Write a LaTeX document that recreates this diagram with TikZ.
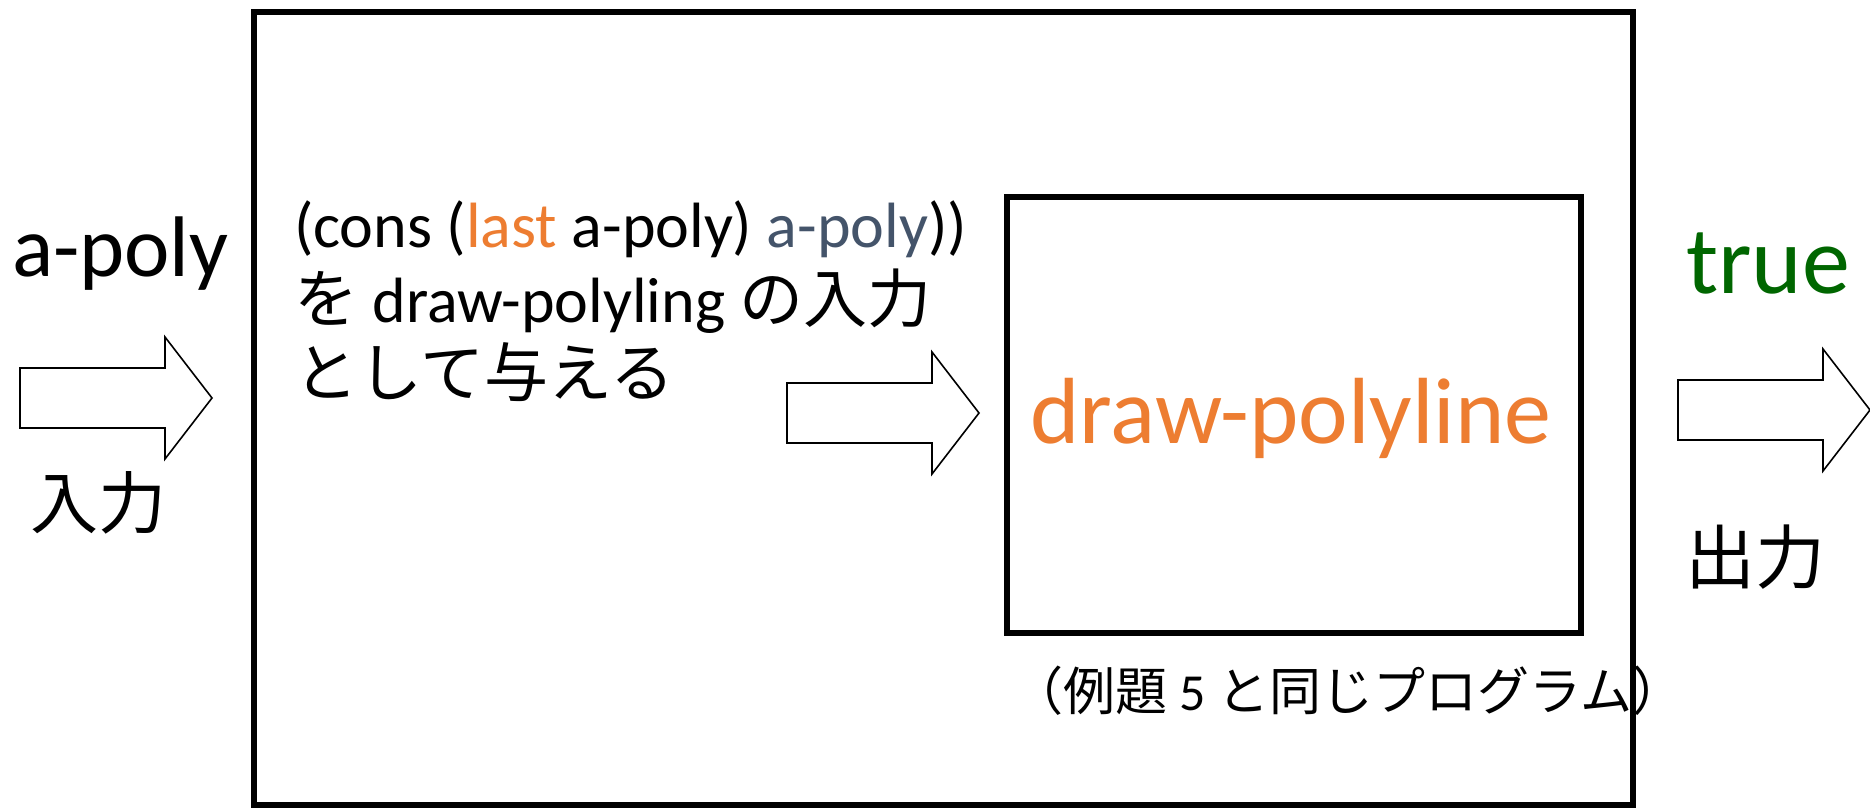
\documentclass[tikz,border=0pt]{standalone}
\usepackage{fontspec}
\setmainfont{Carlito}
\newfontfamily\jp{Noto Sans CJK JP}
\definecolor{accentorange}{HTML}{ED7D31}
\definecolor{slate}{HTML}{44546A}
\definecolor{truegreen}{RGB}{0,102,0}
\begin{document}
\begin{tikzpicture}[x=0.5pt,y=-0.5pt,
  boxline/.style={draw=black, line width=3pt, inner sep=0pt, outer sep=0pt},
  arrowline/.style={draw=black, line width=0.8pt, fill=white, line join=miter},
  lbl/.style={inner sep=0pt, outer sep=0pt},
  blockarrow/.pic={\path[arrowline] (0,-30) -- (145,-30) -- (145,-61) -- (192,0) -- (145,61) -- (145,30) -- (0,30) -- cycle;}
]
\useasboundingbox (0,0) rectangle (1870,808);
\node[boxline, minimum width=689.5pt, minimum height=396.5pt] (outer) at (943.5,408.5) {};
\node[boxline, minimum width=287pt, minimum height=218pt] (inner) at (1294,415) {};
\pic (arrL) at (20,398) {blockarrow};
\pic (arrM) at (787,413) {blockarrow};
\pic (arrR) at (1678,410) {blockarrow};
\node[lbl, anchor=base west, font=\fontsize{43}{50}\selectfont] (apoly) at (12,276) {a-poly};
\node[lbl, font=\jp\fontsize{34}{40}\selectfont] (inlbl) at (99,503) {入力};
\node[lbl, anchor=base west, font=\fontsize{32}{38}\selectfont] (code1) at (294,248) {(cons ({\color{accentorange}last} a-poly) {\color{slate}a-poly}))};
\node[lbl, anchor=base west, font=\fontsize{32}{38}\selectfont] (code2) at (294,322) {{\jp を} draw-polyling {\jp の入力}};
\node[lbl, anchor=base west, font=\jp\fontsize{32}{38}\selectfont] (code3) at (294,396) {として与える};
\node[lbl, anchor=base, font=\fontsize{47}{56}\selectfont, text=accentorange] (func) at (1291,443) {draw-polyline};
\node[lbl, font=\fontsize{26}{32}\selectfont] (note) at (1348,691) {{\jp （例題} 5 {\jp と同じプログラム）}};
\node[lbl, anchor=base, font=\fontsize{48}{56}\selectfont, text=truegreen] (truelbl) at (1768,293) {true};
\node[lbl, font=\jp\fontsize{35}{40}\selectfont] (outlbl) at (1755,557.5) {出力};
\end{tikzpicture}
\end{document}
